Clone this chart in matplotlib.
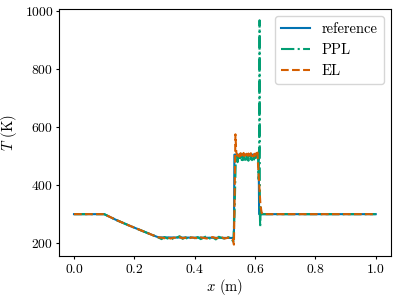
import matplotlib
matplotlib.use("Agg")
import matplotlib.pyplot as plt

plt.rcParams.update({
    "font.family": "serif",
    "font.serif": ["cmr10"],
    "mathtext.fontset": "cm",
    "axes.formatter.use_mathtext": True,
    "font.size": 10.5,
    "xtick.labelsize": 9.8,
    "ytick.labelsize": 9.8,
    "xtick.major.size": 2.5,
    "ytick.major.size": 2.5,
    "xtick.major.pad": 2.5,
    "ytick.major.pad": 1.5,
    "legend.fontsize": 10.5,
})

BLUE = "#0173B2"
GREEN = "#029E73"
ORANGE = "#D55E00"

# reference solution
ref_x = [0.0, 0.1, 0.14, 0.18, 0.22, 0.26, 0.28, 0.53, 0.5315, 0.612, 0.6135, 1.0]
ref_T = [300, 300, 280, 262, 245, 228, 220, 218, 505, 505, 300, 300]

# shared parts
ramp_x = [0.0, 0.1, 0.14, 0.18, 0.22, 0.26, 0.28]
ramp_T = [300, 300, 280, 262, 245, 228, 220]
low_x = [0.29, 0.30, 0.31, 0.32, 0.33, 0.34, 0.35, 0.36, 0.37, 0.38, 0.39, 0.40,
         0.41, 0.42, 0.43, 0.44, 0.45, 0.46, 0.47, 0.48, 0.49, 0.50, 0.51, 0.52]
plat_x = [0.538, 0.540, 0.542, 0.544, 0.546, 0.548, 0.550, 0.552, 0.554, 0.556,
          0.558, 0.560, 0.562, 0.564, 0.566, 0.568, 0.570, 0.572, 0.574, 0.576,
          0.578, 0.580, 0.582, 0.584, 0.586, 0.588, 0.590, 0.592, 0.594, 0.596,
          0.598, 0.600, 0.602, 0.604, 0.606, 0.608]

# PPL
ppl_low_T = [214, 221, 216, 222, 213, 219, 224, 215, 220, 212, 223, 217,
             221, 214, 219, 225, 216, 220, 213, 222, 218, 215, 221, 217]
ppl_jump_x = [0.528, 0.532, 0.536]
ppl_jump_T = [205, 300, 480]
ppl_plat_T = [488, 502, 479, 497, 505, 485, 499, 492, 508, 483, 496, 501,
              487, 504, 494, 481, 500, 506, 490, 498, 484, 503, 495, 489,
              507, 492, 486, 500, 497, 482, 505, 493, 499, 488, 502, 510]
ppl_tail_x = [0.610, 0.612, 0.614, 0.615, 0.616, 0.617, 0.619, 0.621, 1.0]
ppl_tail_T = [500, 420, 560, 968, 300, 255, 330, 300, 300]

# EL
el_low_T = [219, 217, 220, 216, 219, 218, 221, 217, 219, 216, 220, 218,
            217, 220, 218, 216, 219, 221, 217, 218, 220, 216, 219, 218]
el_jump_x = [0.526, 0.530, 0.533, 0.535, 0.537]
el_jump_T = [215, 195, 420, 575, 530]
el_plat_T = [512, 507, 501, 509, 503, 498, 506, 510, 502, 499, 507, 504,
             511, 500, 506, 503, 498, 508, 505, 501, 509, 502, 497, 506,
             510, 503, 500, 507, 504, 499, 508, 502, 506, 510, 503, 512]
el_tail_x = [0.610, 0.614, 0.618, 0.622, 0.626, 1.0]
el_tail_T = [470, 400, 330, 305, 300, 300]

ppl_x = ramp_x + low_x + ppl_jump_x + plat_x + ppl_tail_x
ppl_T = ramp_T + ppl_low_T + ppl_jump_T + ppl_plat_T + ppl_tail_T
el_x = ramp_x + low_x + el_jump_x + plat_x + el_tail_x
el_T = ramp_T + el_low_T + el_jump_T + el_plat_T + el_tail_T

fig, ax = plt.subplots(figsize=(3.98, 3.01), dpi=100)
ax.plot(ref_x, ref_T, color=BLUE, label="reference")
ax.plot(ppl_x, ppl_T, color=GREEN, linestyle="-.", label="PPL")
ax.plot(el_x, el_T, color=ORANGE, linestyle="--", label="EL")
ax.set_xlabel(r"$x$ (m)", labelpad=1)
ax.set_ylabel(r"$T$ (K)", labelpad=4)
ax.set_xticks([0.0, 0.2, 0.4, 0.6, 0.8, 1.0])
ax.set_yticks([200, 400, 600, 800, 1000])
ax.legend(loc="upper right")
fig.subplots_adjust(left=0.148, right=0.982, top=0.97, bottom=0.15)
fig.savefig("out.png", dpi=100)
